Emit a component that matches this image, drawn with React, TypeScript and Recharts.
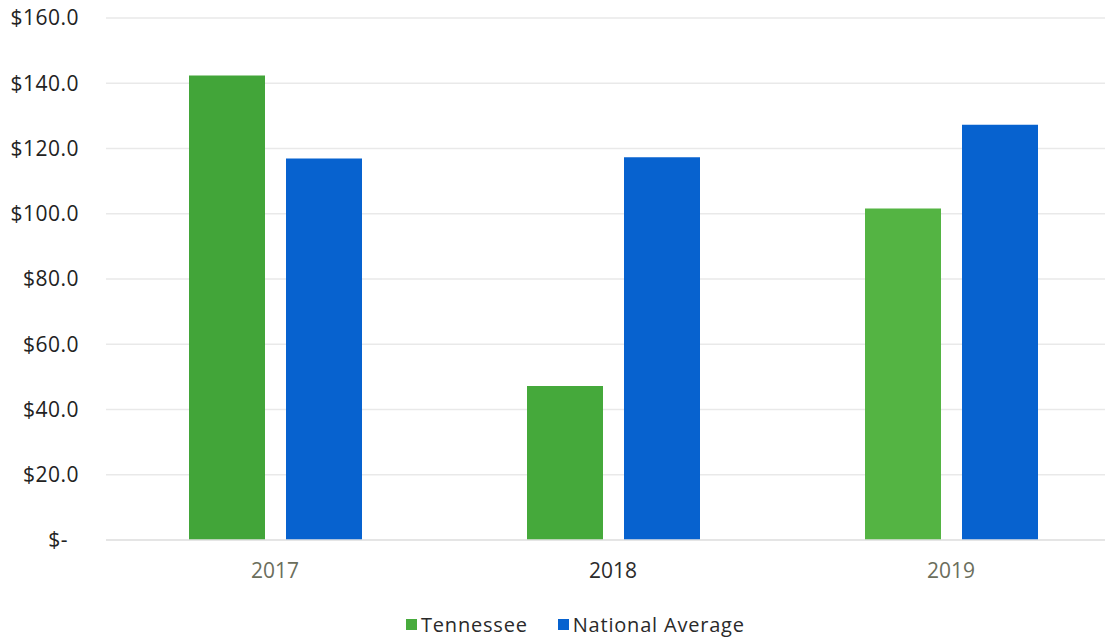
import React from 'react';
import { BarChart, Bar, XAxis, YAxis, CartesianGrid, Cell } from 'recharts';

const years = ['2017', '2018', '2019'];
const tennessee = [142.4, 47.2, 101.6];
const nationalAverage = [116.9, 117.3, 127.3];
const yTicks = [0, 20, 40, 60, 80, 100, 120, 140, 160];

const tnColors = ['#42a539', '#45a93b', '#54b443'];
const blue = '#0762cf';
const yearColors = ['#6b6e5c', '#2b2b2b', '#6b6e5c'];

const data = years.map((year, i) => ({
  year,
  tennessee: tennessee[i],
  national: nationalAverage[i],
}));

const font = '"Open Sans", sans-serif';

const YTick = (props: any) => {
  const { x, y, payload } = props;
  const v = payload.value as number;
  const label = v === 0 ? '$-' : `$${v.toFixed(1)}`;
  return (
    <text
      x={v === 0 ? x - 11 : x}
      y={y}
      dy="0.355em"
      textAnchor="end"
      fill="#222"
      fontSize={21}
      fontFamily={font}
      letterSpacing={0.5}
    >
      {label}
    </text>
  );
};

const XTick = (props: any) => {
  const { x, y, payload, index } = props;
  return (
    <text
      x={x}
      y={y + 38}
      textAnchor="middle"
      fill={yearColors[index] ?? '#555'}
      fontSize={21}
      fontFamily={font}
    >
      {payload.value}
    </text>
  );
};

const legendItems = [
  { name: 'Tennessee', color: '#48ab3d' },
  { name: 'National Average', color: blue },
];

export default function App() {
  return (
    <div
      style={{
        position: 'absolute',
        left: 0,
        top: 0,
        width: 1105,
        height: 641,
        overflow: 'hidden',
        background: '#fff',
      }}
    >
      <BarChart
        width={1125}
        height={641}
        data={data}
        margin={{ top: 18, right: 5, left: 0, bottom: 61 }}
        barSize={76}
        barGap={21}
      >
        <CartesianGrid vertical={false} stroke="#e9e9e9" strokeWidth={1.5} />
        <XAxis
          dataKey="year"
          height={40}
          tickSize={0}
          tickMargin={0}
          axisLine={{ stroke: '#e2e2e2', strokeWidth: 1.5 }}
          tick={<XTick />}
        />
        <YAxis
          width={106}
          domain={[0, 160]}
          ticks={yTicks}
          axisLine={false}
          tickLine={false}
          tickSize={0}
          tickMargin={27}
          tick={<YTick />}
        />
        <Bar dataKey="tennessee" name="Tennessee" isAnimationActive={false}>
          {data.map((_, i) => (
            <Cell key={i} fill={tnColors[i]} />
          ))}
        </Bar>
        <Bar dataKey="national" name="National Average" fill={blue} isAnimationActive={false} />
      </BarChart>
      <div
        style={{
          position: 'absolute',
          left: 406,
          top: 611,
          display: 'flex',
          alignItems: 'center',
          fontFamily: font,
          fontSize: 20,
          letterSpacing: 0.8,
          color: '#2a2a2a',
        }}
      >
        {legendItems.map((item, i) => (
          <div
            key={item.name}
            style={{ display: 'flex', alignItems: 'center', marginRight: i === 0 ? 30 : 0 }}
          >
            <span
              style={{
                display: 'inline-block',
                width: 11,
                height: 11,
                background: item.color,
                marginRight: 4,
              }}
            />
            <span>{item.name}</span>
          </div>
        ))}
      </div>
    </div>
  );
}
